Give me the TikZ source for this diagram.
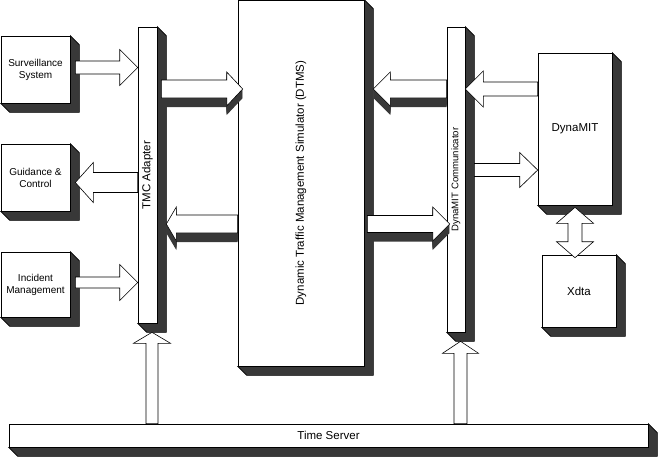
\documentclass[tikz,border=0pt]{standalone}
\usepackage{fontspec}
\setmainfont{Liberation Sans}
\usepackage{tikz}
\usetikzlibrary{calc,backgrounds}

\newcommand{\arrowpts}[3]{%
  \coordinate (ba-b) at ($(ba-h)!#3!(ba-t)$);
  \coordinate (p1) at ($(ba-t)!#1!90:(ba-h)$);
  \coordinate (p2) at ($(ba-b)!#1!90:(ba-h)$);
  \coordinate (p3) at ($(ba-b)!#2!90:(ba-h)$);
  \coordinate (p4) at (ba-h);
  \coordinate (p5) at ($(ba-b)!#2!-90:(ba-h)$);
  \coordinate (p6) at ($(ba-b)!#1!-90:(ba-h)$);
  \coordinate (p7) at ($(ba-t)!#1!-90:(ba-h)$);}
\newcommand{\flatarrow}[5]{%
  \coordinate (ba-t) at (#1);
  \coordinate (ba-h) at (#2);
  \arrowpts{#3}{#4}{#5}
  \filldraw[arrface] (p1) -- (p2) -- (p3) -- (p4) -- (p5) -- (p6) -- (p7) -- cycle;}
\newcommand{\solidarrow}[5]{%
  \coordinate (ba-t) at (#1);
  \coordinate (ba-h) at (#2);
  \arrowpts{#3}{#4}{#5}
  \foreach \k in {1,...,9}
    \fill[arrdark] ($(p1)+(0,\k)$) -- ($(p2)+(0,\k)$) -- ($(p3)+(0,\k)$) -- ($(p4)+(0,\k)$)
      -- ($(p5)+(0,\k)$) -- ($(p6)+(0,\k)$) -- ($(p7)+(0,\k)$) -- cycle;
  \filldraw[arrface] (p1) -- (p2) -- (p3) -- (p4) -- (p5) -- (p6) -- (p7) -- cycle;}

\begin{document}
\begin{tikzpicture}[
    x=1pt, y=-1pt,
    box/.style={rectangle,draw=black,fill=white,line width=0.6pt,inner sep=0pt,align=center,font=\fontsize{10}{12}\selectfont},
    bigbox/.style={box,font=\fontsize{11.5}{13.5}\selectfont},
    vtext/.style={rotate=90,inner sep=0pt,font=\fontsize{11.5}{13.5}\selectfont},
    shade3d/.style={fill=black!78,draw=black,line width=0.6pt},
    arrface/.style={fill=white,draw=black,line width=0.6pt},
    arrdark/.style={fill=black!78},
]
\useasboundingbox (0,0) rectangle (661,459);

\node[box,minimum width=69pt,minimum height=67pt]  (surv) at (35.5,69.5)  {Surveillance\\System};
\node[box,minimum width=69pt,minimum height=67pt]  (guid) at (35.5,177.5) {Guidance \&\\Control};
\node[box,minimum width=69pt,minimum height=65pt]  (inc)  at (35.5,284.5) {Incident\\Management};
\node[box,minimum width=19pt,minimum height=296pt,label={[vtext]center:TMC Adapter}] (tmc) at (147.5,175) {};
\node[box,minimum width=126pt,minimum height=366pt,label={[vtext]center:Dynamic Traffic Management Simulator (DTMS)}] (dtms) at (301,183) {};
\node[box,minimum width=18pt,minimum height=305pt,label={[vtext,font=\fontsize{9.6}{11}\selectfont]center:DynaMIT Communicator}] (comm) at (456,179.5) {};
\node[bigbox,minimum width=74pt,minimum height=152pt] (dyna) at (575,129)   {DynaMIT};
\node[bigbox,minimum width=74pt,minimum height=72pt]  (xdta) at (579,291)   {Xdta};
\node[bigbox,minimum width=639pt,minimum height=23pt] (time) at (328.5,435.5) {Time Server};

\begin{scope}[on background layer]
\foreach \n in {surv,guid,inc,tmc,dtms,comm,dyna,xdta,time}
  \filldraw[shade3d] (\n.north east) -- ++(9,9) -- ($(\n.south east)+(9,9)$) -- ($(\n.south west)+(9,9)$) -- (\n.south west) -- (\n.south east) -- cycle;
\end{scope}

\coordinate (up) at (0,89);
\coordinate (lo) at (0,224);
\coordinate (dv) at (0,170);

\flatarrow{$(surv.east)+(5,-2)$}{$(tmc.west |- surv.east)+(0,-2)$}{6.5pt}{18pt}{18pt}
\flatarrow{$(tmc.west |- guid.east)+(0,5)$}{$(guid.east)+(5,5)$}{10pt}{20pt}{18pt}
\flatarrow{$(inc.east)+(5,-2)$}{$(tmc.west |- inc.east)+(0,-2)$}{5.5pt}{18pt}{18pt}

\solidarrow{$(tmc.east |- up)+(4,0)$}{$(dtms.west |- up)+(5,0)$}{9pt}{17pt}{16pt}
\solidarrow{dtms.west |- lo}{$(tmc.east |- lo)+(9,0)$}{9pt}{17pt}{10pt}
\solidarrow{comm.west |- up}{$(dtms.east |- up)+(9,0)$}{9pt}{17pt}{17pt}
\solidarrow{$(dtms.east |- lo)+(3,0)$}{$(comm.west |- lo)+(3,0)$}{8.5pt}{17pt}{17pt}

\flatarrow{dyna.west |- up}{comm.east |- up}{7pt}{18pt}{18pt}
\flatarrow{$(comm.east |- dv)+(9,0)$}{dyna.west |- dv}{6.5pt}{17.5pt}{18pt}

\coordinate (tt) at ($(tmc.south)+(4.5,9)$);
\coordinate (tc) at ($(comm.south)+(4.5,9)$);
\flatarrow{tt |- time.north}{tt}{6pt}{18.5pt}{11pt}
\flatarrow{tc |- time.north}{tc}{6.5pt}{18pt}{12pt}

\coordinate (da) at ($(dyna.south)+(0,2)$);
\coordinate (db) at ($(dyna.south |- xdta.north)+(0,3)$);
\coordinate (da-b) at ($(da)!16pt!(db)$);
\coordinate (db-b) at ($(db)!16pt!(da)$);
\filldraw[arrface] (da) -- ($(da-b)!18.5pt!90:(db)$) -- ($(da-b)!7pt!90:(db)$) -- ($(db-b)!7pt!-90:(da)$)
  -- ($(db-b)!18.5pt!-90:(da)$) -- (db) -- ($(db-b)!18.5pt!90:(da)$) -- ($(db-b)!7pt!90:(da)$)
  -- ($(da-b)!7pt!-90:(db)$) -- ($(da-b)!18.5pt!-90:(db)$) -- cycle;
\end{tikzpicture}
\end{document}
